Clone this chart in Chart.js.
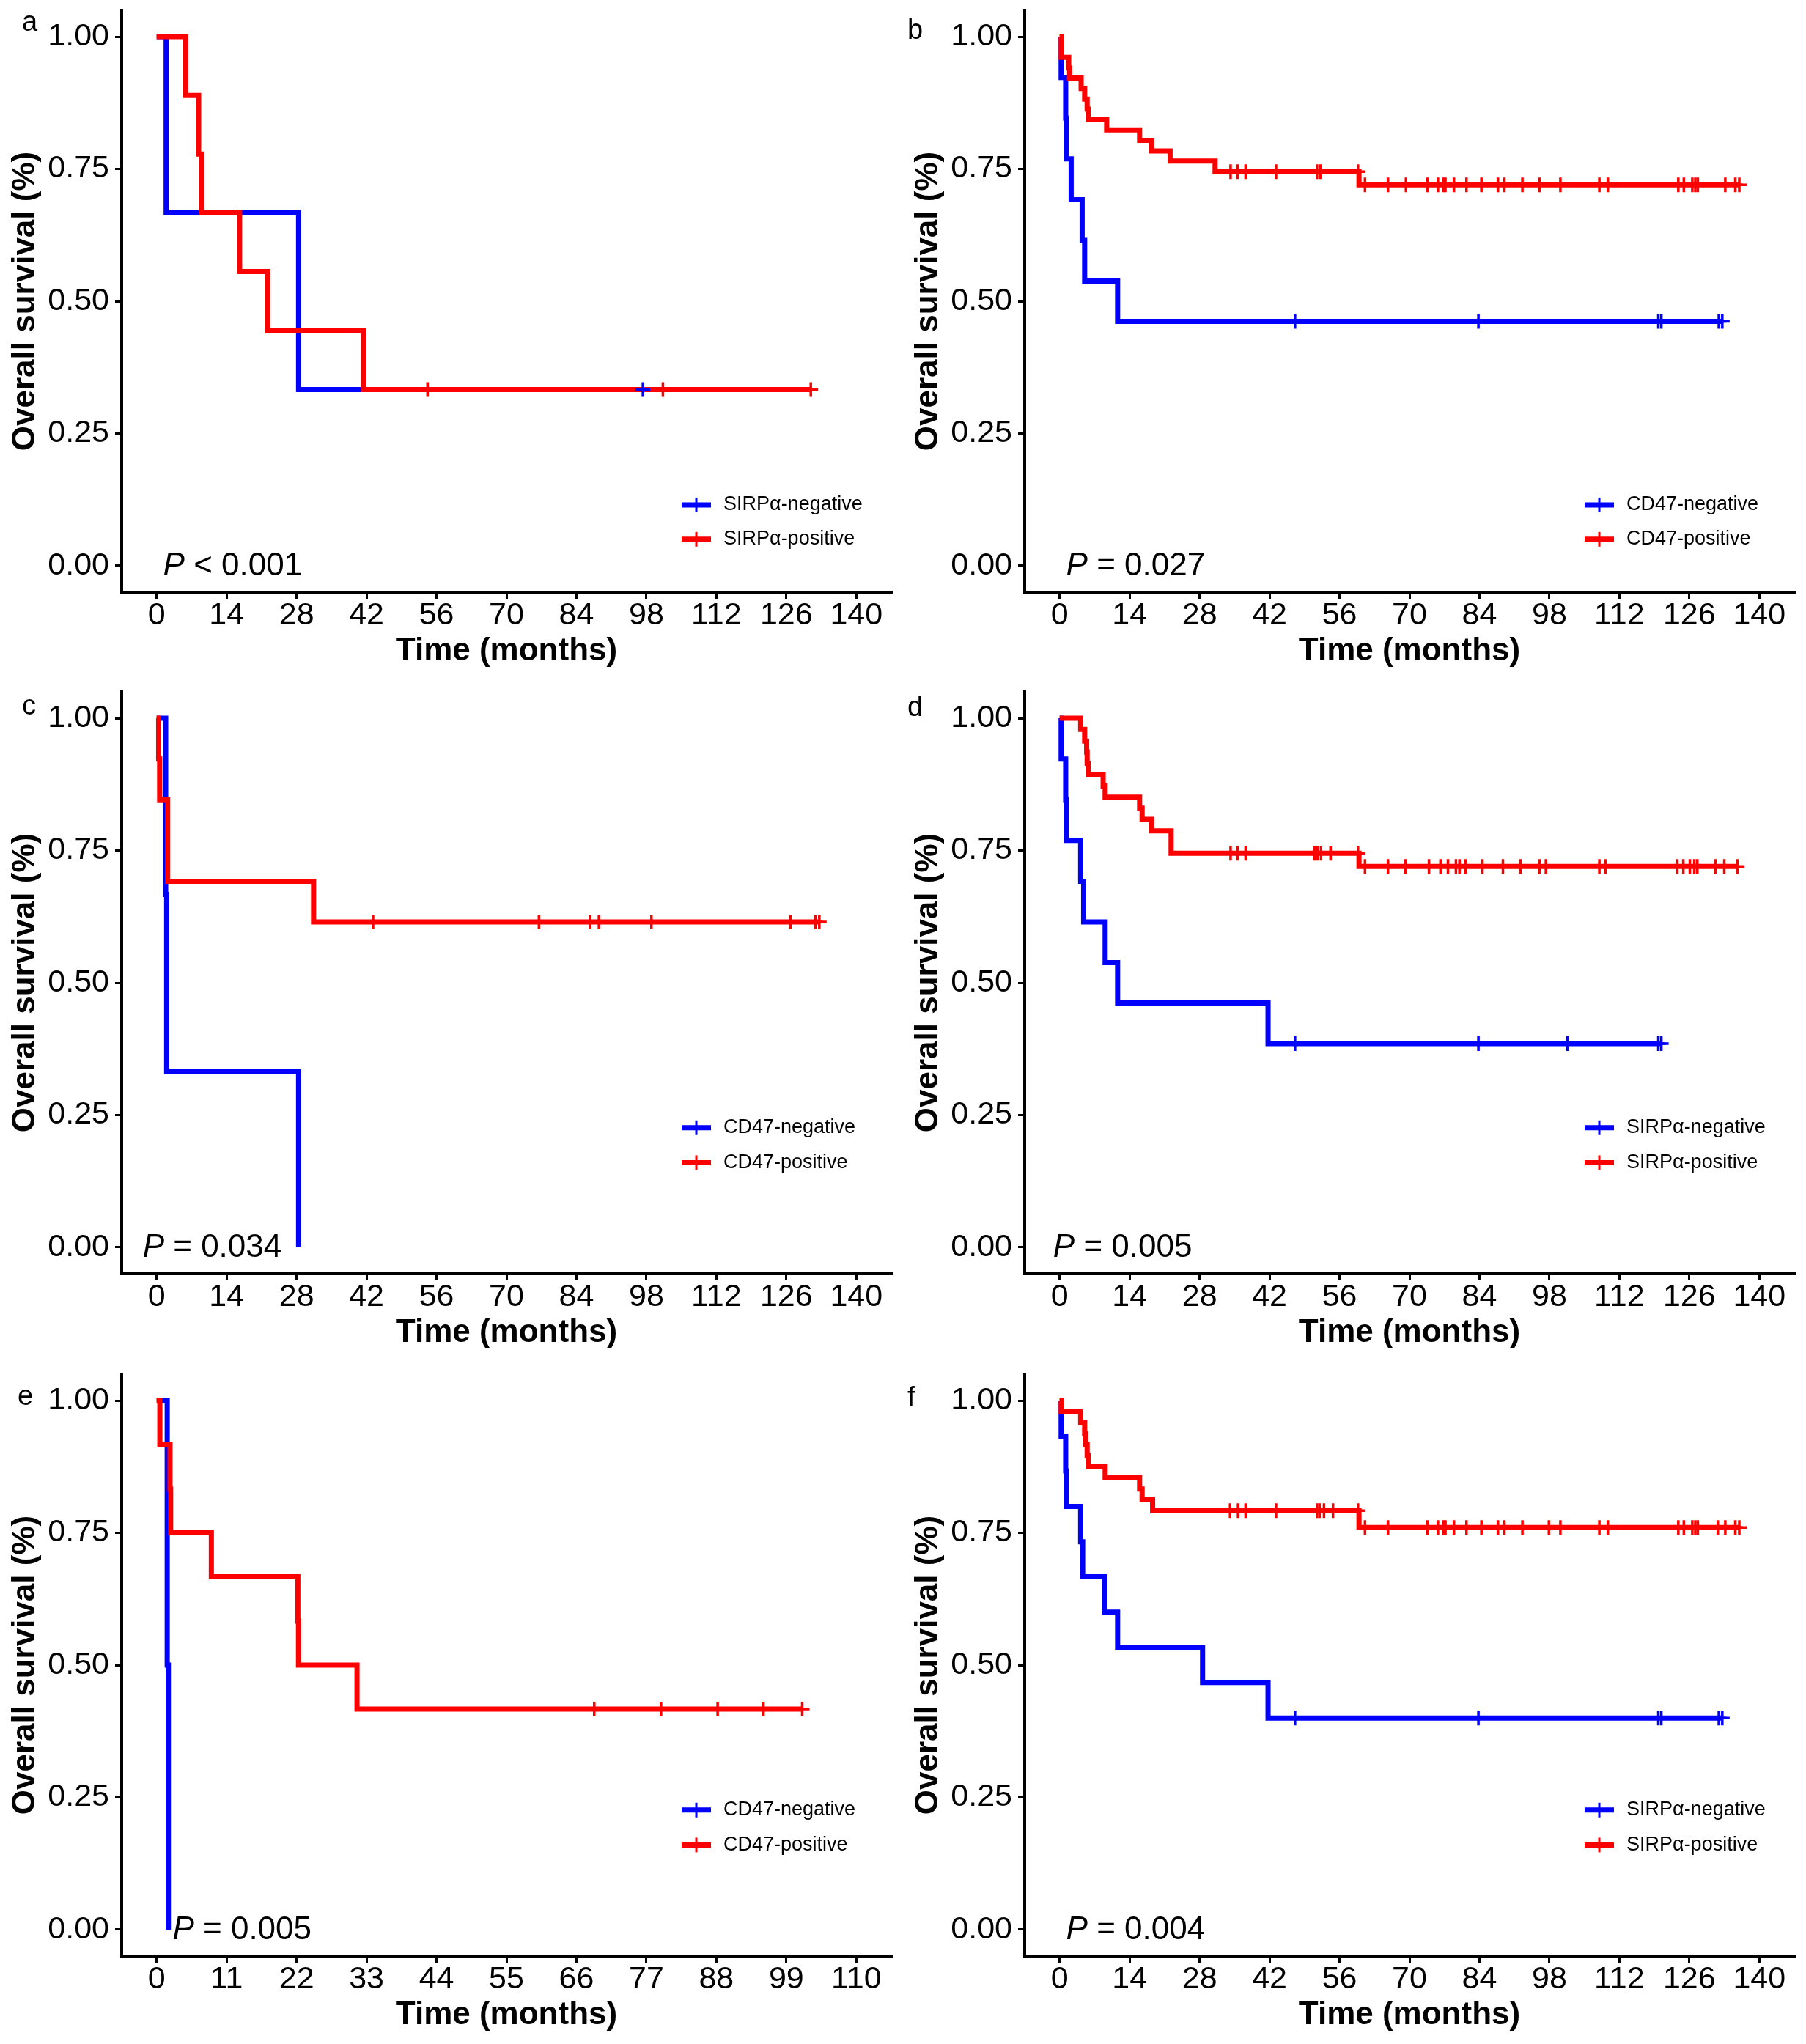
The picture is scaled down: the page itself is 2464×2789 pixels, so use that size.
<!DOCTYPE html>
<html>
<head>
<meta charset="utf-8">
<script src="https://cdn.jsdelivr.net/npm/chart.js@4.4.1/dist/chart.umd.min.js"></script>
<style>
  html, body { margin: 0; padding: 0; background: #fff; }
  #grid { position: relative; width: 2464px; height: 2789px; overflow: hidden; }
  .cell { position: absolute; width: 1232px; height: 930px; }
  .cell canvas { position: absolute; left: 0; top: 0; }
</style>
</head>
<body>
<div id="grid"></div>
<script>
// ---- data (months, survival probability) ----
const yTicks = [0, 0.25, 0.5, 0.75, 1];
const xTicks140 = [0, 14, 28, 42, 56, 70, 84, 98, 112, 126, 140];
const xTicks110 = [0, 11, 22, 33, 44, 55, 66, 77, 88, 99, 110];

// a: SIRPα
const aNegTime = [1.9, 28.4];
const aNegSurv = [0.667, 0.333];
const aNegCensor = [97.3];
const aPosTime = [5.8, 8.4, 9.0, 16.6, 22.2, 41.4];
const aPosSurv = [0.889, 0.778, 0.667, 0.556, 0.444, 0.333];
const aPosCensor = [54.2, 101.3, 130.9];

// b: CD47
const bNegTime = [0.3, 1.2, 1.3, 2.3, 4.5, 5.0, 11.6];
const bNegSurv = [0.923, 0.846, 0.769, 0.692, 0.615, 0.538, 0.462];
const bNegCensor = [47.1, 83.8, 119.8, 120.4, 131.9, 132.6];
const bPosTime = [0.3, 1.8, 2.0, 4.3, 5.0, 5.5, 5.7, 9.4, 16.0, 18.4, 22.1, 31.1, 59.9];
const bPosSurv = [0.961, 0.941, 0.922, 0.902, 0.882, 0.863, 0.843, 0.824, 0.804, 0.784, 0.765, 0.745, 0.720];
const bPosCensor = [34.2, 35.6, 37.2, 43.3, 51.5, 52.2, 59.7, 61.1, 65.7, 69.3, 73.6, 75.7, 76.8, 77.2,
  78.9, 81.4, 84.4, 87.7, 89.0, 92.6, 96.0, 100.2, 108.0, 109.7, 123.8, 124.9, 126.6, 127.2, 127.7,
  133.2, 135.2, 136.0];

// c: CD47
const cNegTime = [1.8, 2.0, 28.4];
const cNegSurv = [0.667, 0.333, 0];
const cNegCensor = [];
const cPosTime = [0.4, 0.6, 2.2, 31.4];
const cPosSurv = [0.923, 0.846, 0.692, 0.615];
const cPosCensor = [43.3, 76.5, 86.7, 88.5, 99.0, 126.8, 131.8, 132.6];

// d: SIRPα
const dNegTime = [0.3, 1.2, 1.3, 4.2, 4.8, 9.1, 11.6, 41.7];
const dNegSurv = [0.923, 0.846, 0.769, 0.692, 0.615, 0.538, 0.462, 0.385];
const dNegCensor = [47.1, 83.8, 101.6, 119.8, 120.4];
const dPosTime = [4.2, 5.0, 5.4, 5.5, 5.7, 8.7, 9.1, 16.0, 16.5, 18.4, 22.3, 59.9];
const dPosSurv = [0.979, 0.957, 0.936, 0.915, 0.894, 0.872, 0.851, 0.830, 0.809, 0.787, 0.745, 0.720];
const dPosCensor = [34.2, 35.6, 37.2, 51.0, 51.6, 52.3, 54.2, 59.7, 61.1, 65.7, 69.2, 73.9, 76.2, 77.7,
  79.3, 80.0, 81.2, 84.6, 88.7, 92.2, 96.0, 97.3, 108.0, 109.2, 123.6, 124.8, 126.1, 127.0, 127.6,
  131.2, 133.0, 135.6];

// e: CD47
const eNegTime = [1.66, 1.84];
const eNegSurv = [0.5, 0];
const eNegCensor = [];
const ePosTime = [0.5, 2.1, 2.2, 8.6, 22.2, 22.3, 31.5];
const ePosSurv = [0.917, 0.833, 0.75, 0.667, 0.583, 0.5, 0.417];
const ePosCensor = [68.8, 79.3, 88.2, 95.4, 101.5];

// f: SIRPα
const fNegTime = [0.3, 1.2, 1.3, 4.2, 4.6, 9.0, 11.6, 28.6, 41.7];
const fNegSurv = [0.933, 0.867, 0.8, 0.733, 0.667, 0.6, 0.533, 0.467, 0.4];
const fNegCensor = [47.1, 83.8, 119.8, 120.4, 131.9, 132.6];
const fPosTime = [0.3, 4.2, 5.0, 5.2, 5.5, 5.7, 9.1, 16.0, 16.5, 18.6, 59.9];
const fPosSurv = [0.979, 0.958, 0.938, 0.917, 0.896, 0.875, 0.854, 0.833, 0.813, 0.792, 0.760];
const fPosCensor = [34.1, 35.7, 37.2, 43.3, 51.5, 52.0, 52.9, 54.7, 59.7, 61.1, 65.7, 73.6, 75.7, 76.8,
  77.2, 78.9, 81.4, 84.4, 87.7, 89.0, 92.6, 97.9, 100.2, 108.0, 109.7, 123.8, 124.9, 126.6, 127.2,
  127.7, 131.7, 133.2, 135.2, 136.0];

const sirpLabels = ['SIRPα-negative', 'SIRPα-positive'];
const cd47Labels = ['CD47-negative', 'CD47-positive'];
const pValues = ['< 0.001', '= 0.027', '= 0.034', '= 0.005', '= 0.005', '= 0.004'];

// ---- layout ----
const FONT = '"Liberation Sans", Arial, Helvetica, sans-serif';
const BLUE = '#0000FF';
const RED = '#FF0000';

const panels = [
  { tag: 'a', col: 0, row: 0, tagX: 30, tagY: 42, labels: sirpLabels, p: pValues[0], pX: 1.3,
    xTicks: xTicks140, legY: [0.115, 0.05],
    neg: [aNegTime, aNegSurv, aNegCensor], pos: [aPosTime, aPosSurv, aPosCensor] },
  { tag: 'b', col: 1, row: 0, tagX: 6, tagY: 53, labels: cd47Labels, p: pValues[1], pX: 1.3,
    xTicks: xTicks140, legY: [0.115, 0.05],
    neg: [bNegTime, bNegSurv, bNegCensor], pos: [bPosTime, bPosSurv, bPosCensor] },
  { tag: 'c', col: 0, row: 1, tagX: 30, tagY: 45, labels: cd47Labels, p: pValues[2], pX: -2.8,
    xTicks: xTicks140, legY: [0.226, 0.16],
    neg: [cNegTime, cNegSurv, cNegCensor], pos: [cPosTime, cPosSurv, cPosCensor] },
  { tag: 'd', col: 1, row: 1, tagX: 6, tagY: 47, labels: sirpLabels, p: pValues[3], pX: -1.3,
    xTicks: xTicks140, legY: [0.226, 0.16],
    neg: [dNegTime, dNegSurv, dNegCensor], pos: [dPosTime, dPosSurv, dPosCensor] },
  { tag: 'e', col: 0, row: 2, tagX: 24, tagY: 56, labels: cd47Labels, p: pValues[4], pX: 2.5,
    xTicks: xTicks110, legY: [0.226, 0.16],
    neg: [eNegTime, eNegSurv, eNegCensor], pos: [ePosTime, ePosSurv, ePosCensor] },
  { tag: 'f', col: 1, row: 2, tagX: 6, tagY: 58, labels: sirpLabels, p: pValues[5], pX: 1.3,
    xTicks: xTicks140, legY: [0.226, 0.16],
    neg: [fNegTime, fNegSurv, fNegCensor], pos: [fPosTime, fPosSurv, fPosCensor] }
];
const rowTops = [0, 930, 1861];

function survAt(times, surv, t) {
  let s = 1;
  for (let i = 0; i < times.length; i++) {
    if (times[i] <= t) s = surv[i];
  }
  return s;
}

function stepPoints(times, surv, censor) {
  const pts = [{ x: 0, y: 1 }];
  times.forEach((t, i) => pts.push({ x: t, y: surv[i] }));
  const lastC = censor.length ? Math.max(...censor) : 0;
  if (lastC > times[times.length - 1]) pts.push({ x: lastC, y: surv[surv.length - 1] });
  return pts;
}

function censorPoints(times, surv, censor) {
  return censor.map(t => ({ x: t, y: survAt(times, surv, t) }));
}

function makeExtras(p) {
  return {
    id: 'kmExtras',
    afterDraw(chart) {
      const { ctx, chartArea, scales } = chart;
      ctx.save();
      // panel tag
      ctx.fillStyle = '#000';
      ctx.font = '38px ' + FONT;
      ctx.textBaseline = 'alphabetic';
      ctx.textAlign = 'left';
      ctx.fillText(p.tag, p.tagX, p.tagY);

      // p-value
      const px = scales.x.getPixelForValue(p.pX);
      const py = scales.y.getPixelForValue(-0.018);
      ctx.font = 'italic 44px ' + FONT;
      ctx.fillText('P', px, py);
      const w = ctx.measureText('P').width;
      ctx.font = '44px ' + FONT;
      ctx.fillText(' ' + p.p, px + w, py);

      // legend
      const keyLeft = chartArea.right - 286;
      [BLUE, RED].forEach((col, i) => {
        const y = scales.y.getPixelForValue(p.legY[i]);
        ctx.strokeStyle = col;
        ctx.lineWidth = 7;
        ctx.beginPath();
        ctx.moveTo(keyLeft, y);
        ctx.lineTo(keyLeft + 40, y);
        ctx.stroke();
        ctx.lineWidth = 3;
        ctx.beginPath();
        ctx.moveTo(keyLeft + 20, y - 10);
        ctx.lineTo(keyLeft + 20, y + 10);
        ctx.stroke();
        ctx.fillStyle = '#000';
        ctx.font = '27px ' + FONT;
        ctx.textBaseline = 'middle';
        ctx.fillText(p.labels[i], keyLeft + 57, y);
      });
      ctx.restore();
    }
  };
}

function noPad(s) {
  s.paddingTop = 0;
  s.paddingBottom = 0;
  s.paddingLeft = 0;
  s.paddingRight = 0;
}

const grid = document.getElementById('grid');

panels.forEach(p => {
  const cell = document.createElement('div');
  cell.className = 'cell';
  cell.style.left = (p.col * 1232) + 'px';
  cell.style.top = rowTops[p.row] + 'px';
  const canvas = document.createElement('canvas');
  canvas.width = 1232;
  canvas.height = 930;
  cell.appendChild(canvas);
  grid.appendChild(cell);

  const xMax = p.xTicks[p.xTicks.length - 1];
  const [nT, nS, nC] = p.neg;
  const [pT, pS, pC] = p.pos;

  new Chart(canvas, {
    type: 'line',
    data: {
      datasets: [
        { label: p.labels[0] + ' censor', data: censorPoints(nT, nS, nC), showLine: false,
          pointStyle: 'cross', pointRadius: 10, pointBorderWidth: 3.5, pointBorderColor: BLUE,
          pointBackgroundColor: BLUE, pointHoverRadius: 10 },
        { label: p.labels[1] + ' censor', data: censorPoints(pT, pS, pC), showLine: false,
          pointStyle: 'cross', pointRadius: 10, pointBorderWidth: 3.5, pointBorderColor: RED,
          pointBackgroundColor: RED, pointHoverRadius: 10 },
        { label: p.labels[1], data: stepPoints(pT, pS, pC), stepped: true, borderColor: RED,
          borderWidth: 7, pointRadius: 0, fill: false },
        { label: p.labels[0], data: stepPoints(nT, nS, nC), stepped: true, borderColor: BLUE,
          borderWidth: 7, pointRadius: 0, fill: false }
      ]
    },
    options: {
      responsive: false,
      animation: false,
      devicePixelRatio: 1,
      events: [],
      layout: { padding: { top: 14, right: 16, left: 0, bottom: 0 } },
      plugins: { legend: { display: false }, tooltip: { enabled: false } },
      scales: {
        x: {
          type: 'linear',
          min: -xMax * 0.05,
          max: xMax * 1.05,
          afterBuildTicks: s => { s.ticks = p.xTicks.map(v => ({ value: v })); },
          afterFit: s => { s.height = 122; noPad(s); },
          ticks: { font: { family: FONT, size: 43 }, color: '#000', padding: -3,
                   maxRotation: 0, autoSkip: false, callback: v => String(v) },
          grid: { drawOnChartArea: false, drawTicks: true, tickLength: 9, color: '#000', lineWidth: 3 },
          border: { display: true, color: '#000', width: 4 },
          title: { display: true, text: 'Time (months)', color: '#000',
                   font: { family: FONT, size: 44, weight: 'bold' }, padding: { top: 0, bottom: 15 } }
        },
        y: {
          type: 'linear',
          min: -0.05,
          max: 1.05,
          afterBuildTicks: s => { s.ticks = yTicks.map(v => ({ value: v })); },
          afterFit: s => { s.width = 166; noPad(s); },
          ticks: { font: { family: FONT, size: 43 }, color: '#000', padding: 8,
                   callback: v => v.toFixed(2) },
          grid: { drawOnChartArea: false, drawTicks: true, tickLength: 9, color: '#000', lineWidth: 3 },
          border: { display: true, color: '#000', width: 4 },
          title: { display: true, text: 'Overall survival (%)', color: '#000',
                   font: { family: FONT, size: 44, weight: 'bold' }, padding: { top: 8, bottom: 0 } }
        }
      }
    },
    plugins: [makeExtras(p)]
  });
});
</script>
</body>
</html>
